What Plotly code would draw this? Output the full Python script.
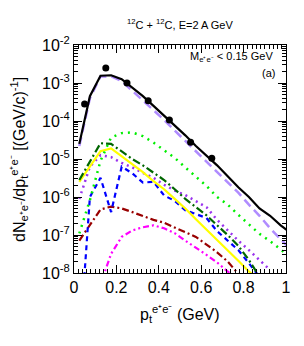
import plotly.graph_objects as go

# ---- data ----
pt_bins = [0.025, 0.075, 0.125, 0.175, 0.225, 0.275, 0.325, 0.375, 0.425, 0.475,
           0.525, 0.575, 0.625, 0.675, 0.725, 0.775, 0.825, 0.875, 0.925, 0.975, 1.025]

total = [2.5e-5, 4.5e-4, 1.55e-3, 1.6e-3, 1.26e-3, 7.6e-4, 4.5e-4, 2.5e-4, 1.4e-4, 7.9e-5,
         4.2e-5, 2.2e-5, 1.26e-5, 6.8e-6, 3.5e-6, 1.8e-6, 1.0e-6, 5.0e-7, 3.2e-7, 1.8e-7, 1.1e-7]
pi0_dalitz = [2.2e-5, 4.0e-4, 1.48e-3, 1.5e-3, 1.12e-3, 6.3e-4, 3.5e-4, 2.0e-4, 1.07e-4, 5.6e-5,
              3.0e-5, 1.6e-5, 8.5e-6, 4.7e-6, 2.5e-6, 1.3e-6, 6.3e-7, 3.2e-7, 1.5e-7, 7.6e-8, 4.0e-8]
eta_dalitz = [1.1e-7, 8.3e-7, 8.9e-6, 3.7e-5, 4.8e-5, 5.0e-5, 4.0e-5, 2.7e-5, 1.7e-5, 1.07e-5,
              6.0e-6, 3.5e-6, 1.95e-6, 1.0e-6, 6.3e-7, 3.4e-7, 1.9e-7, 1.07e-7, 6.9e-8, 4.2e-8, 2.5e-8]
pn_brems = [2.8e-6, 8.9e-6, 2.6e-5, 2.5e-5, 1.6e-5, 1.0e-5, 6.8e-6, 4.3e-6, 2.8e-6, 1.6e-6,
            8.9e-7, 5.4e-7, 3.3e-7, 1.8e-7, 1.0e-7, 5.2e-8, 2.2e-8, 8.0e-9, 3.0e-9]
delta_dalitz = [2.5e-6, 6.3e-6, 1.6e-5, 1.9e-5, 1.17e-5, 7.4e-6, 4.5e-6, 2.6e-6, 1.6e-6, 8.9e-7,
                5.0e-7, 2.6e-7, 1.4e-7, 7.6e-8, 4.0e-8, 2.1e-8, 1.1e-8, 6.3e-9]
pp_brems = [8.9e-7, 6.3e-6, 1.26e-5, 1.12e-5, 7.9e-6, 6.0e-6, 4.3e-6, 3.2e-6, 2.1e-6, 1.48e-6,
            1.12e-6, 7.9e-7, 5.4e-7, 2.5e-7, 1.3e-7, 7.1e-8, 4.0e-8, 2.2e-8, 1.2e-8]
omega_dalitz = [1e-10, 1.0e-6, 3.2e-6, 4.0e-7, 6.3e-6, 4.2e-6, 2.4e-6, 2.5e-6, 1.1e-6, 7.9e-7,
                4.5e-7, 3.5e-7, 2.8e-7, 1.26e-7, 7.1e-8, 4.0e-8, 1.8e-8, 7.9e-9]
rho_direct = [7.1e-8, 1.9e-7, 4.7e-7, 5.6e-7, 5.0e-7, 4.0e-7, 3.2e-7, 2.5e-7, 2.1e-7, 1.6e-7,
              1.2e-7, 8.9e-8, 5.6e-8, 3.5e-8, 2.0e-8, 9.5e-9]
pt_magenta = pt_bins[2:16]
omega_direct = [5.0e-9, 3.2e-8, 8.9e-8, 1.32e-7, 1.6e-7, 1.8e-7, 1.5e-7, 1.12e-7, 7.1e-8, 4.7e-8,
                3.0e-8, 1.9e-8, 1.1e-8, 6.3e-9]

data_pt = [0.05, 0.15, 0.25, 0.35, 0.45, 0.55, 0.65]
data_val = [2.8e-4, 2.5e-3, 1.0e-3, 3.4e-4, 1.07e-4, 2.75e-5, 1.05e-5]

y_tickvals = [1e-8, 1e-7, 1e-6, 1e-5, 1e-4, 1e-3, 1e-2]
y_ticktext = ["10<sup>-8</sup>", "10<sup>-7</sup>", "10<sup>-6</sup>", "10<sup>-5</sup>",
              "10<sup>-4</sup>", "10<sup>-3</sup>", "10<sup>-2</sup>"]
x_tickvals = [0, 0.2, 0.4, 0.6, 0.8, 1.0]
x_ticktext = ["0", "0.2", "0.4", "0.6", "0.8", "1"]

fig = go.Figure()

def add_line(x, y, color, dash, width=2.2):
    fig.add_trace(go.Scatter(x=x, y=y, mode="lines",
                             line=dict(color=color, dash=dash, width=width),
                             showlegend=False, hoverinfo="skip"))

add_line(pt_magenta, omega_direct, "#ff00ff", "6px,3px,2px,3px,2px,3px")
add_line(pt_bins[:len(rho_direct)], rho_direct, "#990000", "7px,3px,2px,3px")
add_line(pt_bins[:len(omega_dalitz)], omega_dalitz, "#0000ff", "5px,4px")
add_line(pt_bins[:len(pp_brems)], pp_brems, "#9933ee", "2px,4px", 2.5)
add_line(pt_bins[:len(delta_dalitz)], delta_dalitz, "#ffff00", "solid")
add_line(pt_bins[:len(pn_brems)], pn_brems, "#006600", "8px,3px,2px,3px")
add_line(pt_bins[:len(eta_dalitz)], eta_dalitz, "#00ee00", "2px,5px", 2.5)
add_line(pt_bins, pi0_dalitz, "#b08cff", "9px,5px", 2.5)
add_line(pt_bins, total, "#000000", "solid", 2.2)

fig.add_trace(go.Scatter(x=data_pt, y=data_val, mode="markers",
                         marker=dict(color="black", size=7),
                         showlegend=False, hoverinfo="skip"))

font_family = "Liberation Sans, Arial, sans-serif"

fig.update_layout(
    width=304, height=346,
    margin=dict(l=74, r=18, t=45, b=73, pad=0, autoexpand=False),
    paper_bgcolor="white", plot_bgcolor="white",
    font=dict(family=font_family, color="black", size=16),
    hovermode=False,
    xaxis=dict(range=[0, 1], tickvals=x_tickvals, ticktext=x_ticktext,
               ticks="inside", ticklen=8, tickcolor="black", automargin=False,
               showline=True, linecolor="black", linewidth=1, mirror="allticks",
               showgrid=False, zeroline=False,
               tickfont=dict(size=16),
               minor=dict(dtick=0.02, tick0=0, ticks="inside", ticklen=4, tickcolor="black", showgrid=False)),
    yaxis=dict(type="log", range=[-8, -2], tickvals=y_tickvals, ticktext=y_ticktext,
               ticks="inside", ticklen=8, tickcolor="black", automargin=False,
               showline=True, linecolor="black", linewidth=1, mirror="allticks",
               showgrid=False, zeroline=False,
               tickfont=dict(size=16),
               minor=dict(dtick="D1", ticks="inside", ticklen=4, tickcolor="black", showgrid=False)),
)

fig.add_annotation(text="<sup>12</sup>C + <sup>12</sup>C, E=2 A GeV", xref="paper", yref="paper",
                   x=0.5, y=1.09, xanchor="center", yanchor="middle", showarrow=False,
                   font=dict(size=11))
fig.add_annotation(text="M<sub>e⁺e⁻</sub> < 0.15 GeV", xref="paper", yref="paper",
                   x=0.948, y=0.947, xanchor="right", yanchor="middle", showarrow=False,
                   font=dict(size=11))
fig.add_annotation(text="(a)", xref="paper", yref="paper",
                   x=0.958, y=0.877, xanchor="right", yanchor="middle", showarrow=False,
                   font=dict(size=11))
fig.add_annotation(text="dN<sub>e⁺e⁻</sub>/dp<sub>t</sub><sup>e⁺e⁻</sup> [(GeV/c)<sup>-1</sup>]",
                   xref="paper", yref="paper", x=-0.259, y=0.496, textangle=-90,
                   xanchor="center", yanchor="middle", showarrow=False, font=dict(size=16))
fig.add_annotation(text="p<sub>t</sub><sup>e⁺e⁻</sup> (GeV)", xref="paper", yref="paper",
                   x=0.5, y=-0.18, xanchor="center", yanchor="middle", showarrow=False,
                   font=dict(size=16))

fig.write_html("out.html", config={"displayModeBar": False, "staticPlot": True},
               post_script="document.body.style.margin='0';document.body.style.overflow='hidden';")
